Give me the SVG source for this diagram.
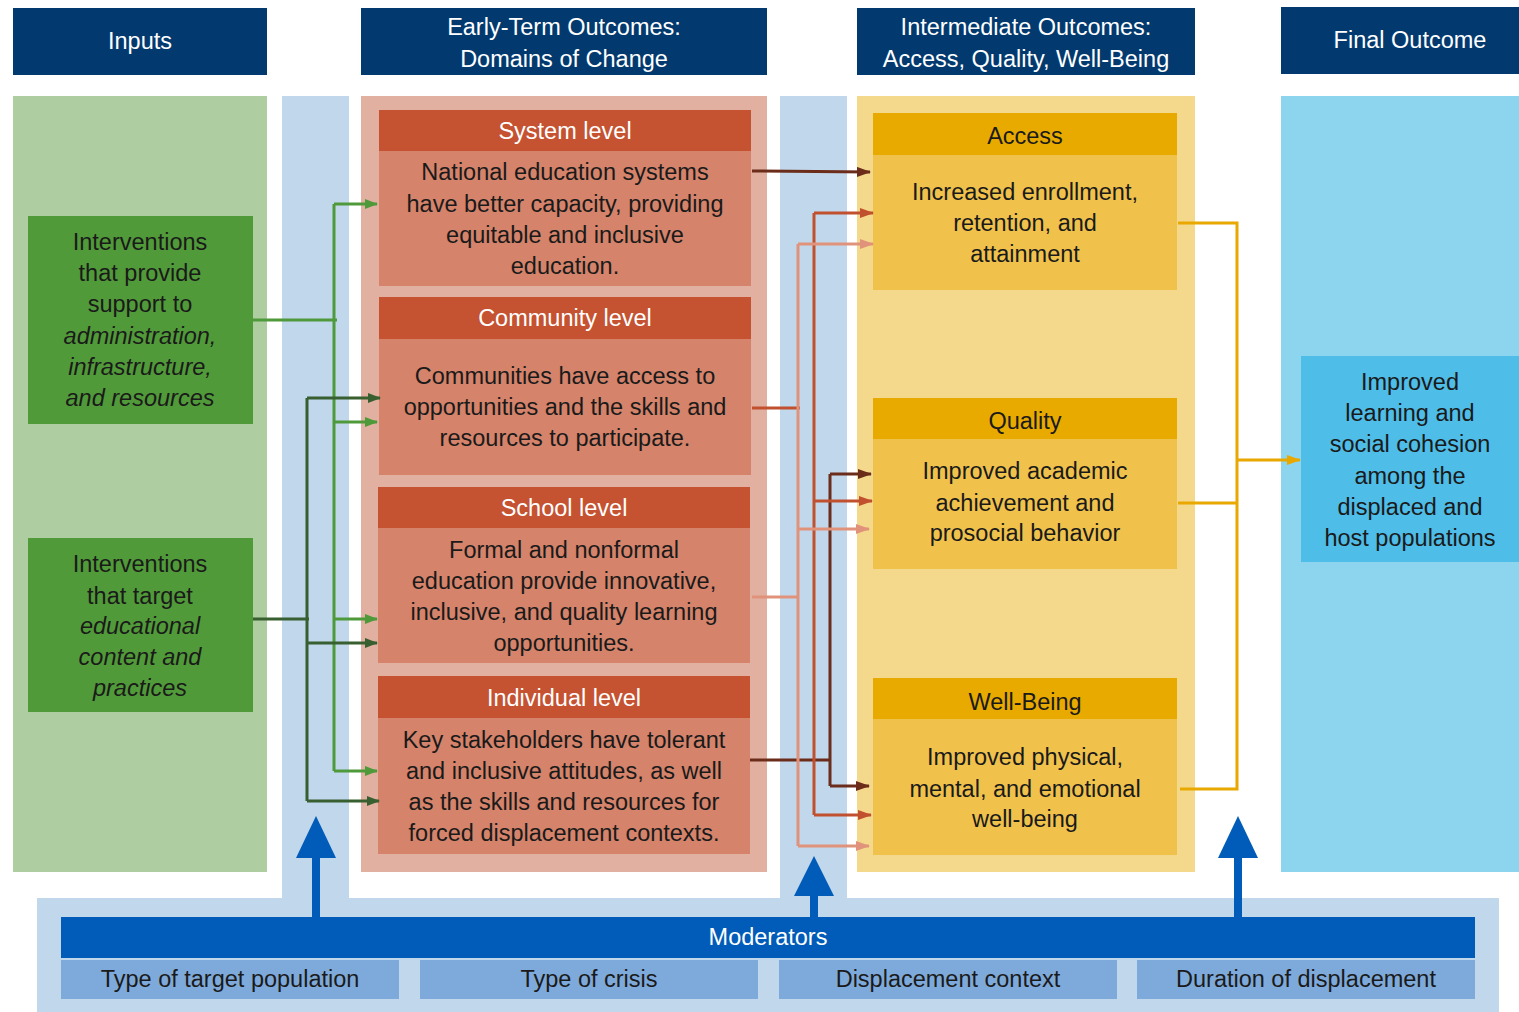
<svg xmlns="http://www.w3.org/2000/svg" width="1519" height="1012" viewBox="0 0 1519 1012">
<defs>
<style>
text{font-family:"Liberation Sans",Arial,sans-serif;font-size:23.5px;text-anchor:middle;dominant-baseline:central;fill:#1a1a1a}
.w{fill:#fff}
.hd{fill:#023a6f}
.it{font-style:italic}
.ln{fill:none;stroke-width:3}
</style>
<marker id="mG" markerWidth="13" markerHeight="10" refX="12" refY="5" orient="auto" markerUnits="userSpaceOnUse"><path d="M0,0L13,5L0,10Z" fill="#4e9a3a"/></marker>
<marker id="mDG" markerWidth="13" markerHeight="10" refX="12" refY="5" orient="auto" markerUnits="userSpaceOnUse"><path d="M0,0L13,5L0,10Z" fill="#375f2f"/></marker>
<marker id="mB" markerWidth="14" markerHeight="10" refX="13" refY="5" orient="auto" markerUnits="userSpaceOnUse"><path d="M0,0L14,5L0,10Z" fill="#6b2d1a"/></marker>
<marker id="mR" markerWidth="14" markerHeight="10" refX="13" refY="5" orient="auto" markerUnits="userSpaceOnUse"><path d="M0,0L14,5L0,10Z" fill="#c0502e"/></marker>
<marker id="mL" markerWidth="14" markerHeight="10" refX="13" refY="5" orient="auto" markerUnits="userSpaceOnUse"><path d="M0,0L14,5L0,10Z" fill="#e0937a"/></marker>
<marker id="mY" markerWidth="14" markerHeight="10" refX="13" refY="5" orient="auto" markerUnits="userSpaceOnUse"><path d="M0,0L14,5L0,10Z" fill="#e8a800"/></marker>
</defs>
<rect width="1519" height="1012" fill="#fff"/>

<g id="backgrounds">
<rect x="37" y="898" width="1462" height="114" fill="#c1d7ec"/>
<rect x="282" y="96" width="67" height="802" fill="#c1d7ec"/>
<rect x="780" y="96" width="67" height="802" fill="#c1d7ec"/>
<rect x="13" y="96" width="254" height="776" fill="#aecda0"/>
<rect x="361" y="96" width="406" height="776" fill="#e2b0a0"/>
<rect x="857" y="96" width="338" height="776" fill="#f4d88c"/>
<rect x="1281" y="96" width="238" height="776" fill="#8dd5ef"/>
</g>

<g id="headers">
<g id="h-inputs"><rect class="hd" x="13" y="8" width="254" height="67"/><text class="w" x="140" y="41">Inputs</text></g>
<g id="h-early"><rect class="hd" x="361" y="8" width="406" height="67"/><text class="w" x="564" y="27">Early-Term Outcomes:</text><text class="w" x="564" y="59">Domains of Change</text></g>
<g id="h-inter"><rect class="hd" x="857" y="8" width="338" height="67"/><text class="w" x="1026" y="27">Intermediate Outcomes:</text><text class="w" x="1026" y="59">Access, Quality, Well-Being</text></g>
<g id="h-final"><rect class="hd" x="1281" y="7" width="238" height="67"/><text class="w" x="1410" y="40">Final Outcome</text></g>
</g>

<g id="input1"><rect x="28" y="216" width="225" height="208" fill="#519a39"/>
<text x="140" y="242">Interventions</text><text x="140" y="273">that provide</text><text x="140" y="304">support to</text>
<text class="it" x="140" y="336">administration,</text><text class="it" x="140" y="367">infrastructure,</text><text class="it" x="140" y="398">and resources</text></g>
<g id="input2"><rect x="28" y="538" width="225" height="174" fill="#519a39"/>
<text x="140" y="564">Interventions</text><text x="140" y="596">that target</text><text class="it" x="140" y="626">educational</text>
<text class="it" x="140" y="657">content and</text><text class="it" x="140" y="688">practices</text></g>

<g id="system"><rect x="379" y="110" width="372" height="41" fill="#c55230"/><rect x="379" y="151" width="372" height="135" fill="#d5836a"/>
<text class="w" x="565" y="131">System level</text>
<text x="565" y="172">National education systems</text><text x="565" y="204">have better capacity, providing</text><text x="565" y="235">equitable and inclusive</text><text x="565" y="266">education.</text></g>
<g id="community"><rect x="379" y="297" width="372" height="42" fill="#c55230"/><rect x="379" y="339" width="372" height="136" fill="#d5836a"/>
<text class="w" x="565" y="318">Community level</text>
<text x="565" y="376">Communities have access to</text><text x="565" y="407">opportunities and the skills and</text><text x="565" y="438">resources to participate.</text></g>
<g id="school"><rect x="378" y="487" width="372" height="41" fill="#c55230"/><rect x="378" y="528" width="372" height="135" fill="#d5836a"/>
<text class="w" x="564" y="508">School level</text>
<text x="564" y="550">Formal and nonformal</text><text x="564" y="581">education provide innovative,</text><text x="564" y="612">inclusive, and quality learning</text><text x="564" y="643">opportunities.</text></g>
<g id="individual"><rect x="378" y="676" width="372" height="42" fill="#c55230"/><rect x="378" y="718" width="372" height="136" fill="#d5836a"/>
<text class="w" x="564" y="698">Individual level</text>
<text x="564" y="740">Key stakeholders have tolerant</text><text x="564" y="771">and inclusive attitudes, as well</text><text x="564" y="802">as the skills and resources for</text><text x="564" y="833">forced displacement contexts.</text></g>

<g id="access"><rect x="873" y="113" width="304" height="42" fill="#e9aa00"/><rect x="873" y="155" width="304" height="135" fill="#f0c24c"/>
<text x="1025" y="136">Access</text>
<text x="1025" y="192">Increased enrollment,</text><text x="1025" y="223">retention, and</text><text x="1025" y="254">attainment</text></g>
<g id="quality"><rect x="873" y="398" width="304" height="41" fill="#e9aa00"/><rect x="873" y="439" width="304" height="130" fill="#f0c24c"/>
<text x="1025" y="421">Quality</text>
<text x="1025" y="471">Improved academic</text><text x="1025" y="503">achievement  and</text><text x="1025" y="533">prosocial behavior</text></g>
<g id="wellbeing"><rect x="873" y="678" width="304" height="41" fill="#e9aa00"/><rect x="873" y="719" width="304" height="136" fill="#f0c24c"/>
<text x="1025" y="702">Well-Being</text>
<text x="1025" y="757">Improved physical,</text><text x="1025" y="789">mental, and emotional</text><text x="1025" y="819">well-being</text></g>

<g id="final"><rect x="1301" y="356" width="218" height="206" fill="#4ebde8"/>
<text x="1410" y="382">Improved</text><text x="1410" y="413">learning and</text><text x="1410" y="444">social cohesion</text><text x="1410" y="476">among the</text><text x="1410" y="507">displaced and</text><text x="1410" y="538">host populations</text></g>

<g id="moderators">
<rect x="61" y="917" width="1414" height="41" fill="#005cb8"/>
<text class="w" x="768" y="937">Moderators</text>
<rect x="61" y="960" width="338" height="39" fill="#7eaadb"/><text x="230" y="979">Type of target population</text>
<rect x="420" y="960" width="338" height="39" fill="#7eaadb"/><text x="589" y="979">Type of crisis</text>
<rect x="779" y="960" width="338" height="39" fill="#7eaadb"/><text x="948" y="979">Displacement context</text>
<rect x="1137" y="960" width="338" height="39" fill="#7eaadb"/><text x="1306" y="979">Duration of displacement</text>
</g>

<g id="connectors">
<g fill="#005cb8">
<rect x="312" y="855" width="8" height="62"/><path d="M296,858L316,816L336,858Z"/>
<rect x="810" y="893" width="8" height="24"/><path d="M794,896L814,856L834,896Z"/>
<rect x="1234" y="855" width="8" height="62"/><path d="M1218,858L1238,816L1258,858Z"/>
</g>
<g class="ln" stroke="#4e9a3a">
<path d="M253,320H337"/><path d="M334,204V771"/>
<path d="M334,204H377" marker-end="url(#mG)"/><path d="M334,422H377" marker-end="url(#mG)"/>
<path d="M334,619H377" marker-end="url(#mG)"/><path d="M334,771H377" marker-end="url(#mG)"/>
</g>
<g class="ln" stroke="#375f2f">
<path d="M253,619H309"/><path d="M307,398V801"/>
<path d="M307,398H380" marker-end="url(#mDG)"/><path d="M307,643H377" marker-end="url(#mDG)"/>
<path d="M307,801H379" marker-end="url(#mDG)"/>
</g>
<g class="ln" stroke="#6b2d1a">
<path d="M752,171L870,172" marker-end="url(#mB)"/>
<path d="M750,760H830"/><path d="M830,474V786"/>
<path d="M830,474H871" marker-end="url(#mB)"/><path d="M830,786H869" marker-end="url(#mB)"/>
</g>
<g class="ln" stroke="#c0502e">
<path d="M752,408H800"/><path d="M814,213V815"/>
<path d="M814,213H873" marker-end="url(#mR)"/><path d="M814,501H872" marker-end="url(#mR)"/><path d="M814,815H871" marker-end="url(#mR)"/>
</g>
<g class="ln" stroke="#e0937a">
<path d="M752,597H799"/><path d="M798,244V846"/>
<path d="M798,244H873" marker-end="url(#mL)"/><path d="M798,529H869" marker-end="url(#mL)"/><path d="M798,846H869" marker-end="url(#mL)"/>
</g>
<g class="ln" stroke="#e8a800">
<path d="M1178,223H1237V789H1180"/><path d="M1178,503H1237"/>
<path d="M1237,460H1300" marker-end="url(#mY)"/>
</g>
</g>
</svg>
